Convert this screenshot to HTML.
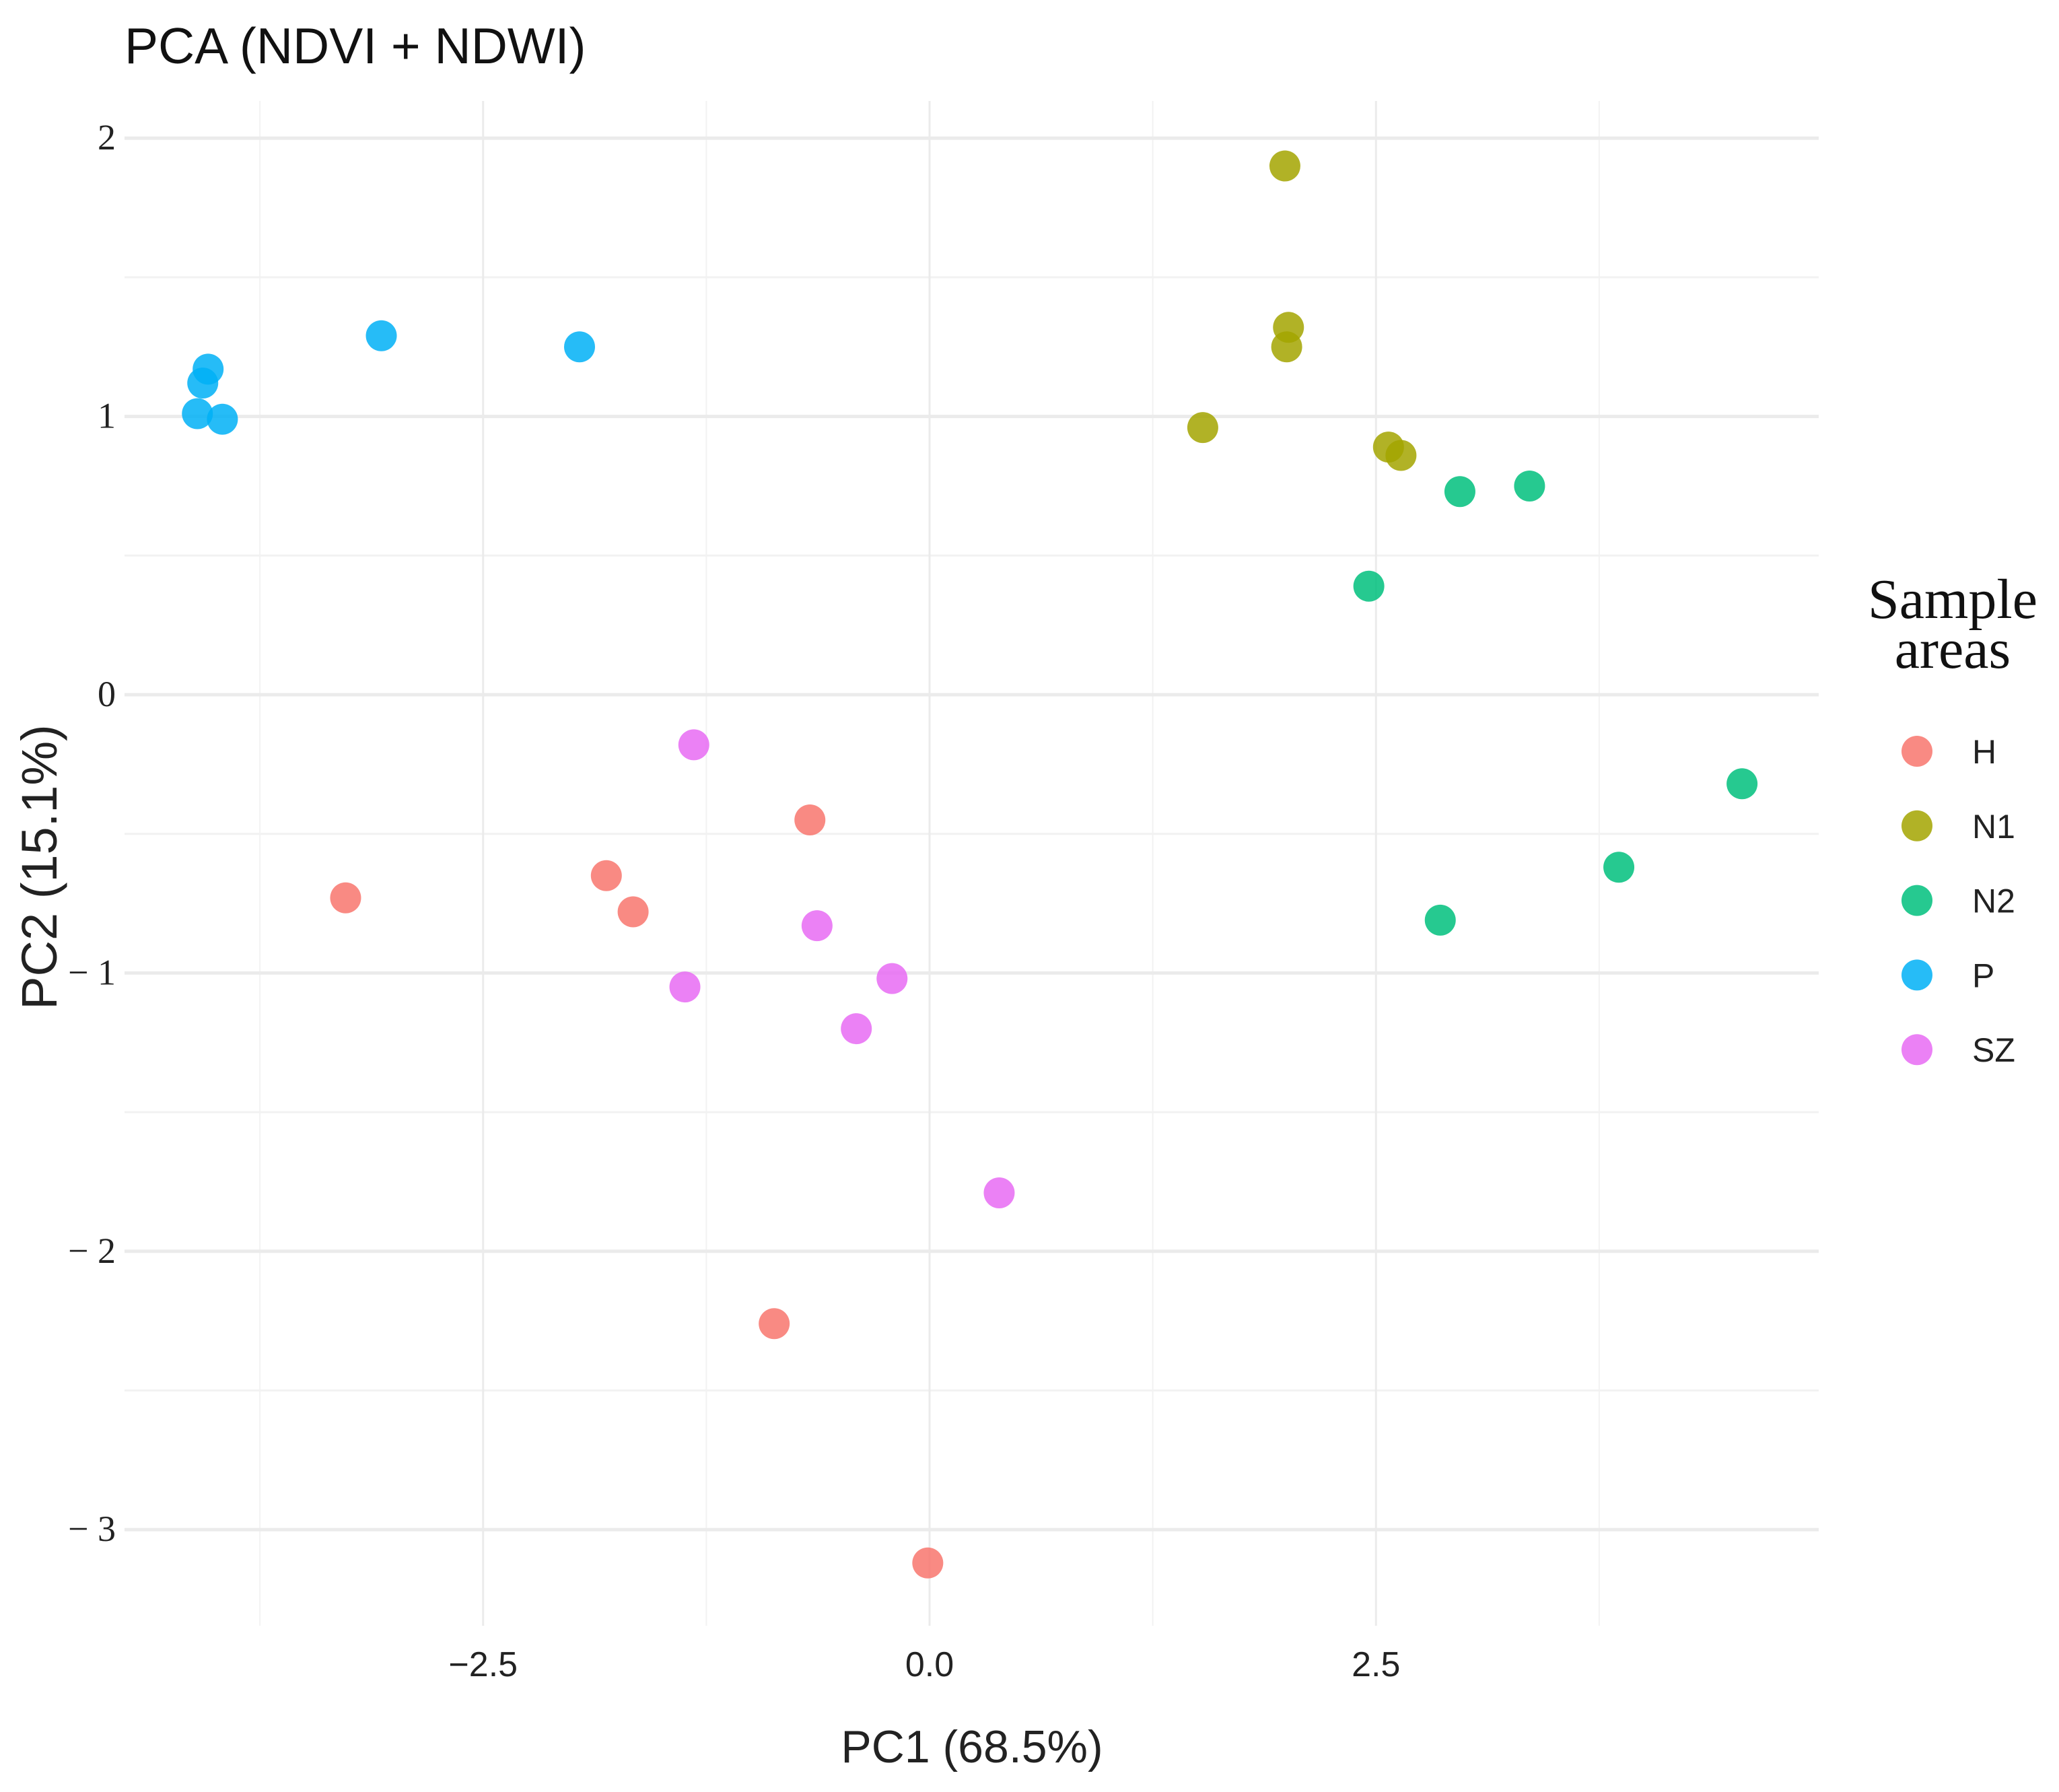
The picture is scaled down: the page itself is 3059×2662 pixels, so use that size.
<!DOCTYPE html>
<html><head><meta charset="utf-8"><style>
html,body{margin:0;padding:0;background:#fff;}
svg{display:block;}
</style></head><body>
<svg id="chart" width="3059" height="2662" viewBox="0 0 3059 2662" xmlns="http://www.w3.org/2000/svg">
<rect width="3059" height="2662" fill="#fff"/>
<g id="grid"></g>
<g id="points"></g>
<g id="axes"></g>
<text x="185" y="94" font-family="Liberation Sans, sans-serif" font-size="75" fill="#111">PCA (NDVI + NDWI)</text>
<text x="1444" y="2618" text-anchor="middle" font-family="Liberation Sans, sans-serif" font-size="68" fill="#222">PC1 (68.5%)</text>
<text transform="translate(84,1288) rotate(-90)" text-anchor="middle" font-family="Liberation Sans, sans-serif" font-size="74" fill="#222">PC2 (15.1%)</text>
<g id="legend">
<text x="2901" y="918" text-anchor="middle" font-family="Liberation Serif, serif" font-size="84" fill="#111">Sample</text>
<text x="2901" y="992" text-anchor="middle" font-family="Liberation Serif, serif" font-size="84" fill="#111">areas</text>
</g>
</svg>
<script>
const groups = ['H','N1','N2','P','SZ'];
const colors = ['#F8766D','#A3A500','#00BF7D','#00B0F6','#E76BF3'];
const xH = [-3.27,-1.81,-1.66,-0.67,-0.87,-0.01];
const yH = [-0.73,-0.65,-0.78,-0.45,-2.26,-3.12];
const xN1 = [1.99,2.01,2.00,1.53,2.57,2.64];
const yN1 = [1.90,1.32,1.25,0.96,0.89,0.86];
const xN2 = [2.97,3.36,2.46,4.55,3.86,2.86];
const yN2 = [0.73,0.75,0.39,-0.32,-0.62,-0.81];
const xP = [-4.10,-4.07,-4.04,-3.96,-3.07,-1.96];
const yP = [1.01,1.12,1.17,0.99,1.29,1.25];
const xSZ = [-1.32,-0.63,-1.37,-0.21,-0.41,0.39];
const ySZ = [-0.18,-0.83,-1.05,-1.02,-1.20,-1.79];
const xTicks = [-2.5,0,2.5];
const xTickLabels = ['\u22122.5','0.0','2.5'];
const xMinor = [-3.75,-1.25,1.25,3.75];
const yTicks = [2,1,0,-1,-2,-3];
const yTickLabels = ['2','1','0','\u2212 1','\u2212 2','\u2212 3'];
const yMinor = [1.5,0.5,-0.5,-1.5,-2.5];

const NS='http://www.w3.org/2000/svg';
const X0=1381, XU=265.3, Y0=1032, YU=413.4;
const PL=185, PR=2702, PT=150, PB=2415;
function sx(v){return X0+v*XU;}
function sy(v){return Y0-v*YU;}
function mk(tag,attrs,parent){const e=document.createElementNS(NS,tag);for(const k in attrs)e.setAttribute(k,attrs[k]);parent.appendChild(e);return e;}
const grid=document.getElementById('grid'), pts=document.getElementById('points'), axes=document.getElementById('axes'), legend=document.getElementById('legend');

xMinor.forEach(v=>{const l=mk('line',{x1:sx(v),x2:sx(v),y1:PT,y2:PB,stroke:'#f2f2f2','stroke-width':2},grid);

});
yMinor.forEach(v=>{const l=mk('line',{x1:PL,x2:PR,y1:sy(v),y2:sy(v),stroke:'#f2f2f2','stroke-width':3},grid);

});
xTicks.forEach((v,i)=>{const l=mk('line',{x1:sx(v),x2:sx(v),y1:PT,y2:PB,stroke:'#ebebeb','stroke-width':3},grid);


const t=mk('text',{x:sx(v),y:2490,'text-anchor':'middle','font-family':'Liberation Sans, sans-serif','font-size':52,fill:'#222'},axes);
t.textContent=xTickLabels[i];

});
yTicks.forEach((v,i)=>{const l=mk('line',{x1:PL,x2:PR,y1:sy(v),y2:sy(v),stroke:'#ebebeb','stroke-width':5},grid);


const t=mk('text',{x:172,y:sy(v)+17,'text-anchor':'end','font-family':'Liberation Serif, serif','font-size':54,fill:'#222'},axes);
t.textContent=yTickLabels[i];

});

const xs=[xH,xN1,xN2,xP,xSZ], ys=[yH,yN1,yN2,yP,ySZ];
groups.forEach((g,gi)=>{
  xs[gi].forEach((xv,j)=>{
    const c=mk('circle',{cx:sx(xv),cy:sy(ys[gi][j]),r:23,fill:colors[gi],'fill-opacity':0.85},pts);
    
    
  });
  const ly=1116+gi*110.8;
  const k=mk('circle',{cx:2848,cy:ly,r:23,fill:colors[gi],'fill-opacity':0.85},legend);
  
  
  const t=mk('text',{x:2930,y:ly+18,'font-family':'Liberation Sans, sans-serif','font-size':50,fill:'#222'},legend);
  t.textContent=g;
  
  
});
</script>
</body></html>
